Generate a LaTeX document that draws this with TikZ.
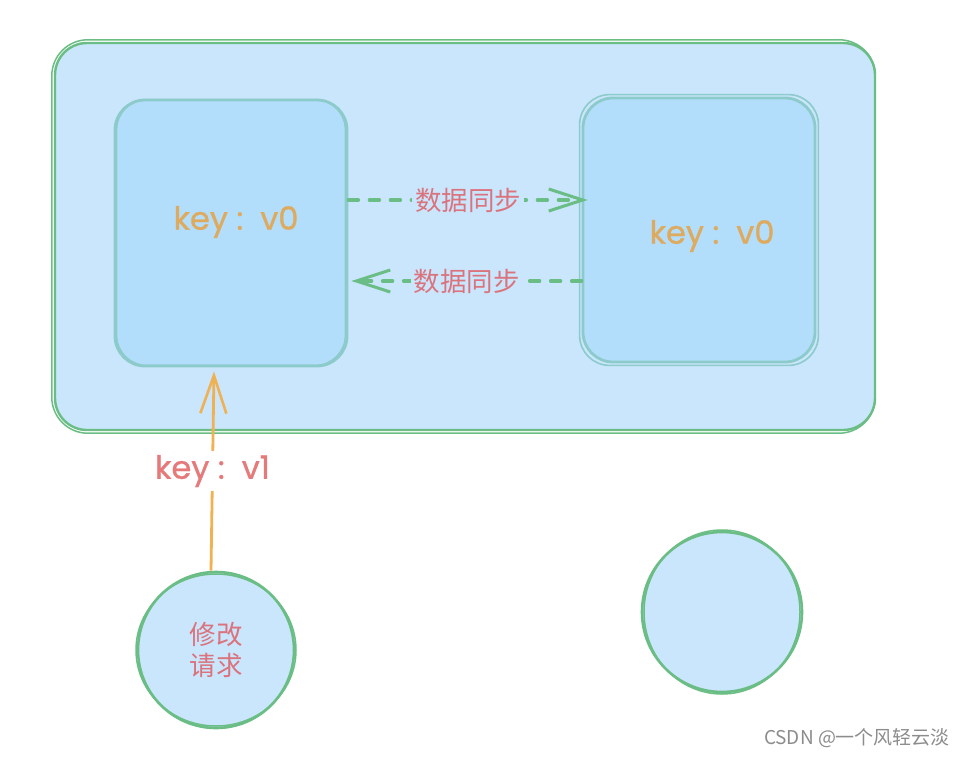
\documentclass[tikz,border=0pt]{standalone}
\usepackage{fontspec}
\setmainfont{Poppins}
\newfontfamily\keyfont[FakeBold=0.9]{Poppins}
\newfontfamily\cjk{Noto Sans CJK SC}
\usetikzlibrary{arrows.meta}
\definecolor{outerfill}{HTML}{CAE6FD}
\definecolor{innerfill}{HTML}{B2DEFC}
\definecolor{greenline}{HTML}{6ABD84}
\definecolor{tealline}{HTML}{8DCBCB}
\definecolor{orangetxt}{HTML}{DEAA5E}
\definecolor{orangeline}{HTML}{EFB152}
\definecolor{pinktxt}{HTML}{DB737D}
\definecolor{redtxt}{HTML}{E67A7A}
\tikzset{
  outerbox/.style={draw=greenline, fill=outerfill, line width=2.4pt, rounded corners=32pt},
  innerbox/.style={draw=tealline, fill=innerfill, line width=2.8pt, rounded corners=30pt},
  ring/.style={draw=greenline, fill=outerfill, circle, line width=2.6pt},
  sketchgreen/.style={draw=greenline, line width=1.5pt},
  sketchteal/.style={draw=tealline, line width=1.6pt},
  keytxt/.style={text=orangetxt, font=\keyfont\fontsize{32}{34}\selectfont},
  synctxt/.style={text=pinktxt, font=\cjk\fontsize{26.5}{30}\selectfont, fill=outerfill, inner sep=3pt},
  dasharrow/.style={draw=greenline, line width=3.4pt, line cap=round, dash pattern=on 10pt off 11pt, -{Straight Barb[length=34pt,width=22pt,line width=3pt]}},
  orangearrow/.style={draw=orangeline, line width=2.8pt, -{Straight Barb[length=38pt,width=26pt,line width=2.6pt]}},
}
\begin{document}
\begin{tikzpicture}[x=1pt,y=-1pt]
\useasboundingbox (0,0) rectangle (968,757);
\fill[white] (0,0) rectangle (968,757);
% outer container
\node[outerbox, minimum width=820pt, minimum height=387pt, inner sep=0pt] (outer) at (465,236.5) {};
\draw[sketchgreen, rounded corners=36pt] ([shift={(-2pt,-2pt)}]outer.south west) rectangle ([shift={(-1pt,2pt)}]outer.north east);
% inner boxes
\node[innerbox, minimum width=232pt, minimum height=266pt, inner sep=0pt] (inL) at (231,233) {};
\draw[sketchteal, rounded corners=30pt] ([shift={(3pt,2pt)}]inL.south west) rectangle ([shift={(-3pt,-1pt)}]inL.north east);
\node[innerbox, minimum width=232pt, minimum height=264pt, inner sep=0pt] (inR) at (699,230) {};
\draw[sketchteal, rounded corners=30pt] ([shift={(-2pt,-2pt)}]inR.south west) rectangle ([shift={(2pt,2pt)}]inR.north east);
% texts
\node[keytxt] (kL) at (236,222) {key\ :\ \ v0};
\node[keytxt] (kR) at (712,236) {key\ :\ \ v0};
% sync arrows
\draw[dasharrow] ([yshift=33pt]inL.east) -- node[synctxt] (s1) {数据同步} ([xshift=6pt,yshift=30pt]inR.west);
\draw[dasharrow] ([yshift=-51pt]inR.west) -- node[synctxt] (s2) {数据同步} ([xshift=3pt,yshift=-48pt]inL.east);
% circles
\node[ring, minimum size=156pt, inner sep=0pt, align=center, text=pinktxt, font=\cjk\fontsize{26.5}{31}\selectfont] (cL) at (216,650) {修改\\请求};
\draw[sketchgreen] (cL.center) ellipse [x radius=80pt, y radius=76pt];
\node[ring, minimum size=160pt, inner sep=0pt] (cR) at (722,612) {};
\draw[sketchgreen] (cR.center) ellipse [x radius=78pt, y radius=82pt];
% request arrow
\draw[orangearrow] ([xshift=-5pt]cL.north) -- node[fill=white, text=redtxt, font=\keyfont\fontsize{32}{34}\selectfont, inner sep=4pt] (kv1) {key\ :\ \ v1} ([xshift=-17pt,yshift=-4pt]inL.south);
% watermark
\node[text=black!45, font=\cjk\fontsize{19}{21}\selectfont] (wm) at (857,738) {CSDN @一个风轻云淡};
\end{tikzpicture}
\end{document}
